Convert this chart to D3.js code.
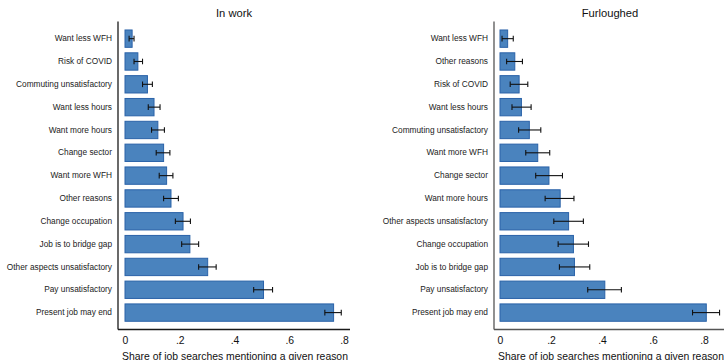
<!DOCTYPE html>
<html>
<head>
<meta charset="utf-8">
<script src="https://cdn.jsdelivr.net/npm/d3@7/dist/d3.min.js"></script>
<style>
  html, body { margin: 0; padding: 0; background: #fff; }
  svg { display: block; font-family: "Liberation Sans", Arial, Helvetica, sans-serif; }
</style>
</head>
<body>
<svg id="chart" width="724" height="360"></svg>
<script>
// Reasons for job search, share of searches (bar) with 95% interval (lo/hi)
const workReasons = ["Want less WFH", "Risk of COVID", "Commuting unsatisfactory", "Want less hours",
  "Want more hours", "Change sector", "Want more WFH", "Other reasons", "Change occupation",
  "Job is to bridge gap", "Other aspects unsatisfactory", "Pay unsatisfactory", "Present job may end"];
const workShare = [0.026, 0.047, 0.082, 0.106, 0.120, 0.141, 0.152, 0.168, 0.212, 0.237, 0.302, 0.506, 0.762];
const workLo    = [0.015, 0.033, 0.064, 0.085, 0.097, 0.114, 0.125, 0.141, 0.184, 0.207, 0.269, 0.470, 0.730];
const workHi    = [0.033, 0.064, 0.100, 0.128, 0.144, 0.164, 0.175, 0.195, 0.239, 0.269, 0.333, 0.539, 0.790];

const furlReasons = ["Want less WFH", "Other reasons", "Risk of COVID", "Want less hours",
  "Commuting unsatisfactory", "Want more WFH", "Change sector", "Want more hours",
  "Other aspects unsatisfactory", "Change occupation", "Job is to bridge gap", "Pay unsatisfactory",
  "Present job may end"];
const furlShare = [0.030, 0.058, 0.075, 0.084, 0.115, 0.148, 0.192, 0.236, 0.269, 0.288, 0.292, 0.411, 0.809];
const furlLo    = [0.008, 0.026, 0.040, 0.047, 0.073, 0.101, 0.140, 0.177, 0.211, 0.228, 0.233, 0.344, 0.755];
const furlHi    = [0.052, 0.088, 0.109, 0.122, 0.160, 0.195, 0.245, 0.290, 0.327, 0.347, 0.352, 0.476, 0.861];

const tickValues = [0, 0.2, 0.4, 0.6, 0.8];
const tickLabels = ["0", ".2", ".4", ".6", ".8"];
const axisTitle = "Share of job searches mentioning a given reason";

const panels = [
  { title: "In work", reasons: workReasons, share: workShare, lo: workLo, hi: workHi,
    axisX: 118, x0: 125, x8: 344, xEnd: 350, axisColor: "#1a1a1a" },
  { title: "Furloughed", reasons: furlReasons, share: furlShare, lo: furlLo, hi: furlHi,
    axisX: 494, x0: 500, x8: 704, xEnd: 726, axisColor: "#555" }
];

const svg = d3.select("#chart");
const yTop = 21.5, yBottom = 329.5;

panels.forEach(p => {
  const g = svg.append("g");
  const x = d3.scaleLinear().domain([0, 0.8]).range([p.x0, p.x8]);
  const y = d3.scaleBand().domain(p.reasons).range([24.5, 326.75]).padding(0.24);
  const rows = p.reasons.map((r, i) => ({ r, v: p.share[i], lo: p.lo[i], hi: p.hi[i] }));

  // title
  g.append("text")
    .attr("x", (p.axisX + p.xEnd) / 2).attr("y", 17)
    .attr("text-anchor", "middle").attr("font-size", 11.2).attr("fill", "#111")
    .text(p.title);

  // bars
  g.selectAll("rect.bar").data(rows).join("rect")
    .attr("class", "bar")
    .attr("x", x(0)).attr("y", d => y(d.r))
    .attr("width", d => x(d.v) - x(0)).attr("height", y.bandwidth())
    .attr("fill", "#4a83be").attr("stroke", "#2a62a8").attr("stroke-width", 1);

  // error bars
  const cap = 2.8;
  const eb = g.selectAll("g.err").data(rows).join("g").attr("class", "err")
    .attr("stroke", "#111").attr("stroke-width", 1.1);
  eb.append("line")
    .attr("x1", d => x(d.lo)).attr("x2", d => x(d.hi))
    .attr("y1", d => y(d.r) + y.bandwidth() / 2).attr("y2", d => y(d.r) + y.bandwidth() / 2);
  eb.append("line")
    .attr("x1", d => x(d.lo)).attr("x2", d => x(d.lo))
    .attr("y1", d => y(d.r) + y.bandwidth() / 2 - cap).attr("y2", d => y(d.r) + y.bandwidth() / 2 + cap);
  eb.append("line")
    .attr("x1", d => x(d.hi)).attr("x2", d => x(d.hi))
    .attr("y1", d => y(d.r) + y.bandwidth() / 2 - cap).attr("y2", d => y(d.r) + y.bandwidth() / 2 + cap);

  // category labels
  const yAxis = d3.axisLeft(y).tickSize(0).tickPadding(6);
  const ya = g.append("g").attr("transform", `translate(${p.axisX},0)`).call(yAxis);
  ya.select(".domain").remove();
  ya.selectAll("text").attr("font-size", 8.3).attr("fill", "#222")
    .attr("font-family", "Liberation Sans, Arial, sans-serif");

  // value axis
  const xAxis = d3.axisBottom(x).tickValues(tickValues)
    .tickFormat((d, i) => tickLabels[i]).tickSize(0).tickPadding(7);
  const xa = g.append("g").attr("transform", `translate(0,${yBottom})`).call(xAxis);
  xa.select(".domain").remove();
  xa.selectAll("text").attr("font-size", 10.4).attr("fill", "#111")
    .attr("font-family", "Liberation Sans, Arial, sans-serif");

  // axis frame lines
  g.append("line").attr("x1", p.axisX).attr("x2", p.axisX).attr("y1", yTop).attr("y2", yBottom)
    .attr("stroke", p.axisColor).attr("stroke-width", 1.3);
  g.append("line").attr("x1", p.axisX).attr("x2", p.xEnd).attr("y1", yBottom).attr("y2", yBottom)
    .attr("stroke", p.axisColor).attr("stroke-width", 1.3);

  // axis title
  g.append("text")
    .attr("x", (p.axisX + p.xEnd) / 2 + 1).attr("y", 359.5)
    .attr("text-anchor", "middle").attr("font-size", 10.4).attr("fill", "#111")
    .text(axisTitle);
});
</script>
</body>
</html>
